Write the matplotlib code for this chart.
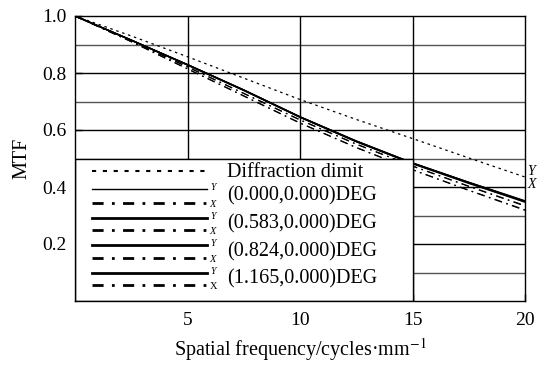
import matplotlib
matplotlib.use("Agg")
import matplotlib.pyplot as plt
from matplotlib.patches import Rectangle

plt.rcParams['font.family'] = ['Liberation Serif', 'DejaVu Serif']
plt.rcParams['mathtext.fontset'] = 'stix'

freq = [0, 2.5, 5, 7.5, 10, 12.5, 15, 17.5, 20]
diffraction = [1.0, 0.93, 0.857, 0.782, 0.707, 0.637, 0.570, 0.502, 0.435]
field_labels = ["(0.000,0.000)DEG", "(0.583,0.000)DEG", "(0.824,0.000)DEG", "(1.165,0.000)DEG"]
mtf_y = [
    [1.0, 0.916, 0.830, 0.741, 0.647, 0.562, 0.485, 0.417, 0.352],
    [1.0, 0.915, 0.829, 0.740, 0.646, 0.561, 0.484, 0.416, 0.350],
    [1.0, 0.915, 0.829, 0.740, 0.645, 0.560, 0.483, 0.415, 0.349],
    [1.0, 0.915, 0.828, 0.739, 0.645, 0.559, 0.482, 0.413, 0.347],
]
mtf_x = [
    [1.0, 0.913, 0.822, 0.729, 0.636, 0.551, 0.474, 0.403, 0.335],
    [1.0, 0.912, 0.821, 0.728, 0.635, 0.550, 0.473, 0.402, 0.333],
    [1.0, 0.910, 0.815, 0.720, 0.625, 0.539, 0.461, 0.389, 0.320],
    [1.0, 0.910, 0.814, 0.719, 0.624, 0.538, 0.460, 0.388, 0.318],
]
xticks = [5, 10, 15, 20]
yticks = [0.2, 0.4, 0.6, 0.8, 1.0]
ytick_labels = ["0.2", "0.4", "0.6", "0.8", "1.0"]

fig = plt.figure(figsize=(5.41, 3.68), dpi=100)
ax = fig.add_axes([75/541, 1-301/368, 450/541, 285/368])
ax.set_xlim(0, 20)
ax.set_ylim(0, 1.0)

# grid
for yv in [0.1, 0.3, 0.5, 0.7, 0.9]:
    ax.axhline(yv, color='#555555', lw=1.0, zorder=1)
for yv in [0.2, 0.4, 0.6, 0.8]:
    ax.axhline(yv, color='black', lw=1.0, zorder=1)
for xv in [5, 10, 15]:
    ax.axvline(xv, color='black', lw=1.0, zorder=1)

ax.plot(freq, diffraction, color='black', lw=0.9, ls=(0, (2, 3)), zorder=3)
for i in range(4):
    ax.plot(freq, mtf_y[i], color='black', lw=0.8 if i == 0 else 1.1, ls='-', zorder=3)
    ax.plot(freq, mtf_x[i], color='black', lw=0.8, ls=(0, (7, 4, 1.5, 4)), zorder=3)

# legend box
ax.add_patch(Rectangle((0, 0), 15, 0.5, facecolor='white', edgecolor='black', lw=1.0, zorder=5))
lx0, lx1 = 0.76, 5.87
tx = 6.75
fs = 14.5
ax.plot([lx0, lx1], [0.456, 0.456], color='black', lw=1.5, ls=(0, (2, 3.2)), zorder=6)
ax.text(tx, 0.452, "Diffraction dimit", fontsize=fs, va='center', ha='left', zorder=6)
rows_y = [0.393, 0.291, 0.196, 0.098]
rows_x = [0.344, 0.249, 0.151, 0.056]
for i in range(4):
    ax.plot([lx0, lx1], [rows_y[i]] * 2, color='black', lw=1.0 if i == 0 else 2.0, zorder=6)
    ax.plot([lx0, lx1], [rows_x[i]] * 2, color='black', lw=2.0, ls=(0, (4, 3, 1, 3)), zorder=6)
    ax.text(6.02, rows_y[i] + 0.006, "Y", fontsize=7, style='italic', va='center', ha='left', zorder=6)
    ax.text(5.98, rows_x[i] - 0.006, "X", fontsize=7.5, style='italic' if i < 3 else 'normal',
            va='center', ha='left', zorder=6)
    ax.text(tx, (rows_y[i] + rows_x[i]) / 2, field_labels[i], fontsize=fs,
            va='center', ha='left', zorder=6)

# right-side labels
ax.text(20.1, 0.455, "Y", fontsize=10, style='italic', va='center', ha='left', clip_on=False)
ax.text(20.1, 0.41, "X", fontsize=10, style='italic', va='center', ha='left', clip_on=False)

ax.set_xticks(xticks)
ax.set_xticklabels([str(v) for v in xticks])
ax.set_yticks(yticks)
ax.set_yticklabels(ytick_labels)
ax.tick_params(direction='in', length=5, width=1, labelsize=14, pad=6)
ax.tick_params(axis='x', pad=8)
for s in ax.spines.values():
    s.set_linewidth(1.0)
    s.set_zorder(7)

ax.set_xlabel("Spatial frequency/cycles·mm$^{-1}$", fontsize=14.5, labelpad=5)
ax.set_ylabel("MTF", fontsize=14.5, labelpad=8)

fig.savefig("out.png", dpi=100)
